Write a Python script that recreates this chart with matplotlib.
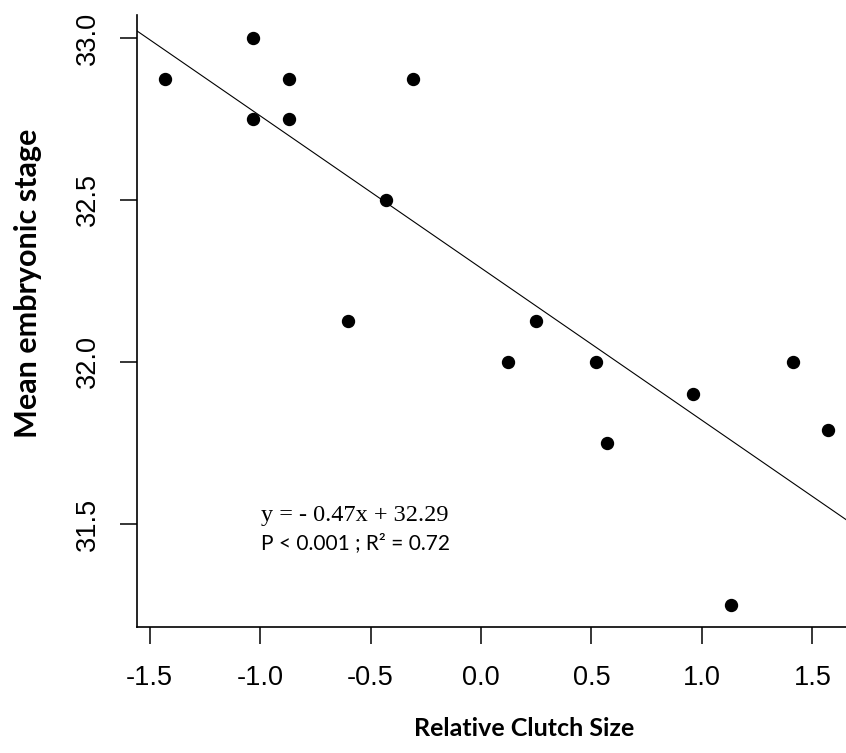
#!/usr/bin/env python3
"""Mean embryonic stage vs relative clutch size, with linear fit."""
import matplotlib
matplotlib.use('Agg')
import matplotlib.pyplot as plt

# data
clutch_size = [-1.43, -1.03, -1.03, -0.87, -0.87, -0.31, -0.43, -0.60,
               0.12, 0.25, 0.52, 0.57, 0.96, 1.13, 1.41, 1.57]
embryo_stage = [32.875, 33.0, 32.75, 32.875, 32.75, 32.875, 32.5, 32.125,
                32.0, 32.125, 32.0, 31.75, 31.9, 31.25, 32.0, 31.79]

slope = -0.47
intercept = 32.29

x_ticks = [-1.5, -1.0, -0.5, 0.0, 0.5, 1.0, 1.5]
y_ticks = [31.5, 32.0, 32.5, 33.0]

W, H = 846, 753
fig = plt.figure(figsize=(W / 100, H / 100), dpi=100)
ax = fig.add_axes([137 / W, (H - 627) / H, (W - 137) / W, (627 - 15) / H])

xlim = (-1.557, 1.652)
ylim = (31.182, 33.071)

ax.plot(clutch_size, embryo_stage, 'o', color='black', ms=8.6, clip_on=False, zorder=3)
ax.plot(xlim, [intercept + slope * x for x in xlim], color='black', lw=0.8)

ax.set_xlim(*xlim)
ax.set_ylim(*ylim)

for side in ('top', 'right'):
    ax.spines[side].set_visible(False)
for side in ('left', 'bottom'):
    ax.spines[side].set_linewidth(1.2)

ax.set_xticks(x_ticks)
ax.set_xticklabels([f"{v:.1f}" for v in x_ticks], family='Liberation Sans', fontsize=19.5)
ax.set_yticks(y_ticks)
ax.set_yticklabels([f"{v:.1f}" for v in y_ticks], family='Liberation Sans', fontsize=19.5,
                   rotation=90, va='center')
ax.tick_params(axis='both', direction='out', length=12.2, width=1.1, color='black')
ax.tick_params(axis='x', pad=15)
ax.tick_params(axis='y', pad=14)

# fit equation
ax.text(-0.57, 31.527, "y = - 0.47x + 32.29", family='Liberation Serif',
        fontsize=17.5, ha='center', va='center')
ax.text(-0.57, 31.44, "P < 0.001 ; R\u00b2 = 0.72", family='Lato',
        fontsize=15, ha='center', va='center')

fig.text(524 / W, 1 - 728 / H, "Relative Clutch Size", family='Lato', weight='bold',
         fontsize=18, ha='center', va='center')
fig.text(28 / W, 1 - 283 / H, "Mean embryonic stage", family='Lato', weight='bold',
         fontsize=22, ha='center', va='center', rotation=90)

fig.savefig('out.png', dpi=100)
